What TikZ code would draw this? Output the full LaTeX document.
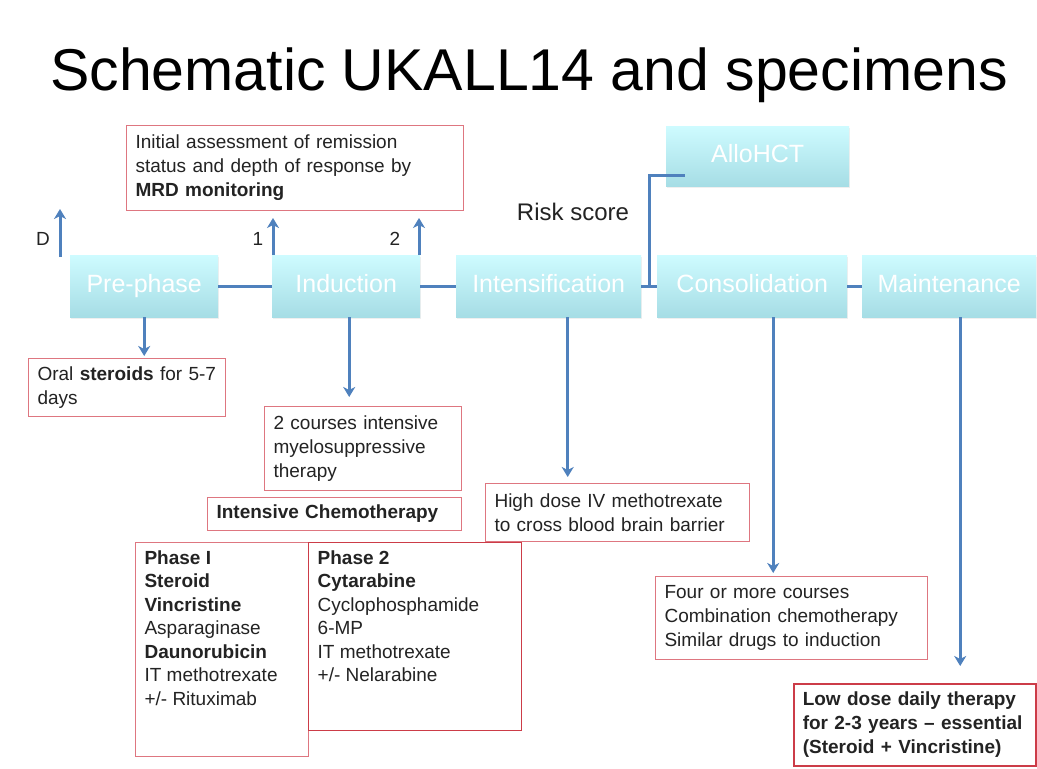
\documentclass[tikz,border=0pt]{standalone}
\usepackage{fontspec}
\setmainfont{Liberation Sans}
\usetikzlibrary{arrows.meta,shadows,calc}

\definecolor{linkblue}{RGB}{79,129,189}
\definecolor{notered}{RGB}{222,118,128}
\definecolor{deepred}{RGB}{204,60,72}
\definecolor{phtop}{RGB}{206,251,255}
\definecolor{phbot}{RGB}{166,221,229}
\definecolor{ink}{RGB}{35,35,35}

\tikzset{
	phase/.style={anchor=north west, top color=phtop, bottom color=phbot, text=white, inner sep=0pt,
		text height=18pt, text depth=5pt,
		font=\fontsize{25}{30}\selectfont, drop shadow={opacity=0.12, shadow xshift=1pt, shadow yshift=-2pt}},
	note/.style={anchor=north west, draw=notered, line width=1.1pt, fill=white, align=left,
		inner xsep=9pt, inner ysep=4pt, text=ink, font=\fontsize{19}{24}\selectfont},
	daylab/.style={text=ink, font=\fontsize{19}{24}\selectfont},
	link/.style={linkblue, line width=3pt},
	tip/.style={link, -{Stealth[length=10pt, width=12pt, inset=3pt]}}
}

\begin{document}
\begin{tikzpicture}[x=1pt, y=-1pt]
	\fill[white] (0,0) rectangle (1037,769);
	\useasboundingbox (0,0) rectangle (1037,769);

	\node[font=\fontsize{59}{70}\selectfont] (title) at (529,75) {Schematic UKALL14 and specimens};

	% phases
	\node[phase, minimum width=148pt, minimum height=62pt] (pre) at (70,255) {Pre-phase};
	\node[phase, minimum width=148pt, minimum height=62pt] (ind) at (272,255) {Induction};
	\node[phase, minimum width=185pt, minimum height=62pt] (int) at (456,255) {Intensification};
	\node[phase, minimum width=190pt, minimum height=62pt] (cons) at (657,255) {Consolidation};
	\node[phase, minimum width=174pt, minimum height=62pt] (maint) at (862,255) {Maintenance};
	\node[phase, minimum width=183pt, minimum height=60pt] (allo) at (666,126) {AlloHCT};

	\node[font=\fontsize{24}{28}\selectfont, text=ink] (risk) at (573,212) {Risk score};

	% notes
	\node[note, text width=319pt, minimum height=85pt] (mrd) at (126,125)
		{Initial assessment of remission\\status and depth of response by\\\textbf{MRD monitoring}};
	\node[note, text width=179pt, minimum height=58pt] (oral) at (28,358)
		{Oral \textbf{steroids} for 5-7\\days};
	\node[note, text width=179pt, minimum height=84pt] (courses) at (264,406)
		{2 courses intensive\\myelosuppressive\\therapy};
	\node[note, text width=236pt, minimum height=33pt, font=\fontsize{19}{24}\selectfont\bfseries] (chemo) at (207,497)
		{Intensive Chemotherapy};
	\node[note, text width=246pt, minimum height=58pt] (hdmtx) at (485,483)
		{High dose IV methotrexate\\to cross blood brain barrier};
	\node[note, minimum height=214pt] (ph1) at (135,542)
		{\parbox[c][198pt][t]{155pt}{\fontsize{19}{23.5}\selectfont
		\textbf{Phase I}\\\textbf{Steroid}\\\textbf{Vincristine}\\Asparaginase\\\textbf{Daunorubicin}\\IT methotrexate\\+/- Rituximab}};
	\node[note, draw=deepred, line width=1.4pt, fill=none, minimum height=188pt] (ph2) at (308,542)
		{\parbox[c][172pt][t]{195pt}{\fontsize{19}{23.5}\selectfont
		\textbf{Phase 2}\\\textbf{Cytarabine}\\Cyclophosphamide\\6-MP\\IT methotrexate\\+/- Nelarabine}};
	\node[note, text width=254pt, minimum height=83pt] (four) at (655,576)
		{Four or more courses\\Combination chemotherapy\\Similar drugs to induction};
	\node[note, draw=deepred, line width=1.5pt, text width=224pt, minimum height=82pt,
		font=\fontsize{19}{24}\selectfont\bfseries] (low) at (793,683)
		{Low dose daily therapy\\for 2-3 years -- essential\\(Steroid + Vincristine)};

	% links between phases
	\draw[link] (pre.east) -- (ind.west);
	\draw[link] (ind.east) -- (int.west);
	\draw[link] (int.east) -- (cons.west);
	\draw[link] (cons.east) -- (maint.west);
	\coordinate (split) at ($(int.east)!0.5!(cons.west)$);
	\coordinate (allotap) at ([shift={(19,-11)}]allo.south west);
	\draw[link] (split) |- (allotap);

	% assessment points
	\coordinate (dtail) at (60,257);
	\coordinate (dtip) at (60,209);
	\coordinate (onetip) at (273,218);
	\coordinate (twotip) at (419,218);
	\draw[tip] (dtail) -- (dtip);
	\draw[tip] (ind.north west -| onetip) -- (onetip);
	\draw[tip] (ind.north east -| twotip) -- (twotip);
	\node[daylab] (dlab) at (43,239) {D};
	\node[daylab] (onelab) at (258,239) {1};
	\node[daylab] (twolab) at (395,239) {2};

	% down arrows
	\draw[tip, shorten >=2pt] (pre.south) -- (pre.south |- oral.north);
	\draw[tip, shorten >=9pt] ([xshift=3pt]ind.south) -- ([xshift=3pt]ind.south |- courses.north);
	\draw[tip, shorten >=6pt] ([xshift=19pt]int.south) -- ([xshift=19pt]int.south |- hdmtx.north);
	\draw[tip, shorten >=3pt] ([xshift=21pt]cons.south) -- ([xshift=21pt]cons.south |- four.north);
	\draw[tip, shorten >=17pt] ([xshift=11pt]maint.south) -- ([xshift=11pt]maint.south |- low.north);
\end{tikzpicture}
\end{document}
